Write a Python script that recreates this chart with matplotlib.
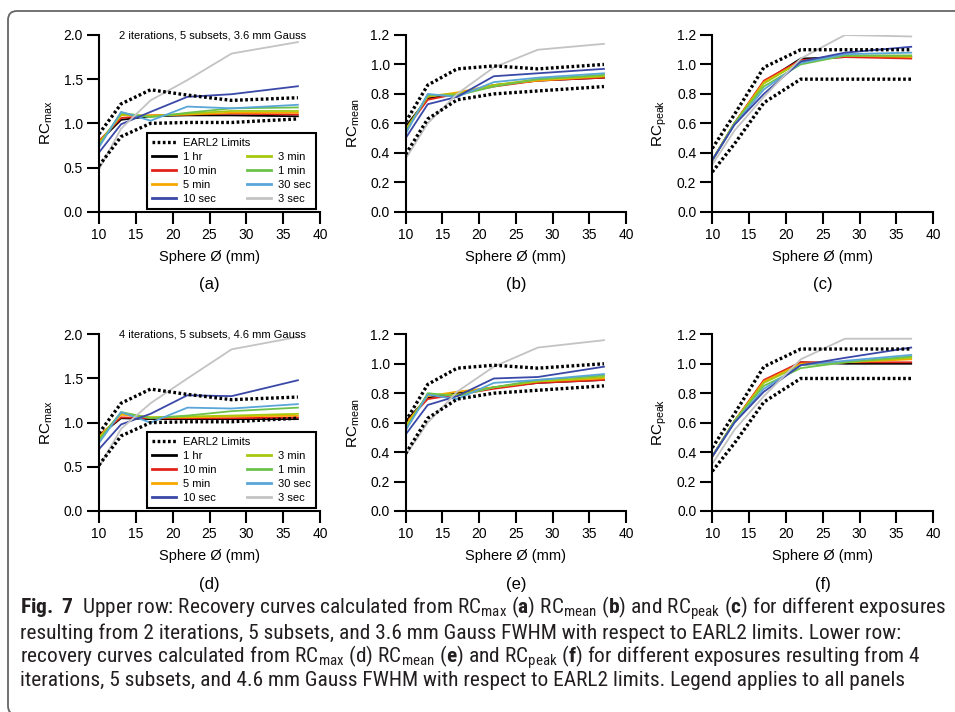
import numpy as np
import matplotlib.pyplot as plt
from matplotlib import font_manager
from matplotlib.lines import Line2D
from matplotlib.patches import FancyBboxPatch

# sphere diameters (mm)
sphere = [10, 13, 17, 22, 28, 37]

labels = ["1 hr", "10 min", "5 min", "3 min", "1 min", "30 sec", "10 sec", "3 sec"]
colors = ["#000000", "#e2231a", "#f7a800", "#a6c90f", "#6cc24a", "#5aa6d8", "#3a48a8", "#c3c3c3"]

# EARL2 limits
max_lo = [0.52, 0.85, 1.00, 1.01, 1.01, 1.05]
max_hi = [0.88, 1.22, 1.38, 1.32, 1.26, 1.29]
mean_lo = [0.39, 0.63, 0.76, 0.80, 0.82, 0.85]
mean_hi = [0.61, 0.86, 0.97, 0.99, 0.97, 1.00]
peak_lo = [0.27, 0.46, 0.74, 0.90, 0.90, 0.90]
peak_hi = [0.43, 0.66, 0.98, 1.10, 1.10, 1.10]

# 2 iterations, 5 subsets, 3.6 mm Gauss (order as labels)
a_max = [
    [0.79, 1.04, 1.08, 1.09, 1.09, 1.08],
    [0.80, 1.06, 1.09, 1.10, 1.11, 1.10],
    [0.78, 1.09, 1.09, 1.10, 1.12, 1.12],
    [0.77, 1.10, 1.08, 1.11, 1.14, 1.14],
    [0.75, 1.12, 1.07, 1.12, 1.17, 1.18],
    [0.73, 1.13, 1.03, 1.19, 1.17, 1.21],
    [0.67, 0.99, 1.13, 1.30, 1.33, 1.42],
    [0.48, 0.94, 1.26, 1.49, 1.79, 1.92],
]
b_mean = [
    [0.58, 0.77, 0.80, 0.86, 0.89, 0.91],
    [0.56, 0.76, 0.80, 0.85, 0.89, 0.91],
    [0.56, 0.78, 0.81, 0.86, 0.89, 0.92],
    [0.55, 0.79, 0.80, 0.86, 0.90, 0.92],
    [0.54, 0.79, 0.79, 0.85, 0.90, 0.93],
    [0.53, 0.80, 0.78, 0.88, 0.91, 0.94],
    [0.50, 0.73, 0.78, 0.92, 0.94, 0.97],
    [0.36, 0.60, 0.80, 0.98, 1.10, 1.14],
]
c_peak = [
    [0.35, 0.60, 0.88, 1.04, 1.05, 1.05],
    [0.35, 0.60, 0.89, 1.03, 1.05, 1.04],
    [0.35, 0.60, 0.88, 1.02, 1.06, 1.05],
    [0.35, 0.60, 0.87, 1.02, 1.06, 1.06],
    [0.35, 0.60, 0.85, 1.00, 1.06, 1.06],
    [0.35, 0.59, 0.83, 1.01, 1.07, 1.08],
    [0.35, 0.59, 0.80, 1.02, 1.08, 1.12],
    [0.32, 0.55, 0.78, 1.04, 1.20, 1.19],
]

# 4 iterations, 5 subsets, 4.6 mm Gauss
d_max = [
    [0.85, 1.05, 1.04, 1.04, 1.04, 1.04],
    [0.86, 1.06, 1.05, 1.05, 1.05, 1.06],
    [0.84, 1.09, 1.06, 1.06, 1.07, 1.08],
    [0.82, 1.11, 1.06, 1.07, 1.08, 1.10],
    [0.80, 1.12, 1.05, 1.08, 1.13, 1.17],
    [0.77, 1.12, 1.00, 1.17, 1.16, 1.21],
    [0.70, 0.98, 1.10, 1.31, 1.30, 1.48],
    [0.50, 0.93, 1.22, 1.50, 1.83, 1.97],
]
e_mean = [
    [0.61, 0.77, 0.80, 0.84, 0.87, 0.89],
    [0.60, 0.76, 0.79, 0.83, 0.87, 0.89],
    [0.59, 0.78, 0.81, 0.84, 0.88, 0.90],
    [0.57, 0.79, 0.79, 0.84, 0.88, 0.91],
    [0.55, 0.80, 0.78, 0.84, 0.89, 0.92],
    [0.55, 0.79, 0.76, 0.87, 0.89, 0.93],
    [0.52, 0.72, 0.78, 0.90, 0.91, 0.98],
    [0.38, 0.60, 0.81, 0.98, 1.11, 1.16],
]
f_peak = [
    [0.37, 0.61, 0.88, 1.01, 1.00, 1.00],
    [0.37, 0.61, 0.89, 1.01, 1.01, 1.01],
    [0.37, 0.61, 0.88, 1.00, 1.01, 1.03],
    [0.37, 0.61, 0.87, 0.99, 1.01, 1.04],
    [0.37, 0.61, 0.85, 0.97, 1.01, 1.05],
    [0.37, 0.60, 0.83, 0.99, 1.02, 1.06],
    [0.37, 0.60, 0.81, 0.99, 1.04, 1.11],
    [0.32, 0.55, 0.78, 1.03, 1.17, 1.17],
]

names = {f.name for f in font_manager.fontManager.ttflist}
cap_font = "Liberation Sans"
for cand in ["Liberation Sans Narrow", "Roboto Condensed", "Open Sans Condensed"]:
    if cand in names:
        cap_font = cand
        break

plt.rcParams["font.family"] = ["Liberation Sans", "DejaVu Sans"]
plt.rcParams["mathtext.fontset"] = "custom"
plt.rcParams["mathtext.rm"] = cap_font
plt.rcParams["mathtext.bf"] = cap_font + ":bold"
plt.rcParams["mathtext.sf"] = "Liberation Sans"

fig = plt.figure(figsize=(9.55, 7.12), dpi=100)

W, H = 955.0, 712.0
cols_px = [(99, 320), (405.7, 626), (712.3, 933.3)]
rows_px = [(35, 211.7), (334.3, 511)]

panels = [
    (a_max, max_lo, max_hi, 2.0, 0.5, "max", "(a)", "2 iterations, 5 subsets, 3.6 mm Gauss"),
    (b_mean, mean_lo, mean_hi, 1.2, 0.2, "mean", "(b)", None),
    (c_peak, peak_lo, peak_hi, 1.2, 0.2, "peak", "(c)", None),
    (d_max, max_lo, max_hi, 2.0, 0.5, "max", "(d)", "4 iterations, 5 subsets, 4.6 mm Gauss"),
    (e_mean, mean_lo, mean_hi, 1.2, 0.2, "mean", "(e)", None),
    (f_peak, peak_lo, peak_hi, 1.2, 0.2, "peak", "(f)", None),
]
label_y = [285, 585]

for i, (data, lo, hi, ymax, ystep, sub, tag, note) in enumerate(panels):
    r, c = divmod(i, 3)
    x0, x1 = cols_px[c]
    yt, yb = rows_px[r]
    ax = fig.add_axes([x0 / W, 1 - yb / H, (x1 - x0) / W, (yb - yt) / H])

    for vals, col, lab in zip(data, colors, labels):
        ax.plot(sphere, vals, color=col, lw=1.3, label=lab)
    ax.plot(sphere, hi, color="black", lw=2.4, ls=(0, (0.8, 0.75)), label="EARL2 Limits")
    ax.plot(sphere, lo, color="black", lw=2.4, ls=(0, (0.8, 0.75)))

    ax.set_xlim(10, 40)
    ax.set_ylim(0, ymax)
    ax.set_xticks(np.arange(10, 41, 5))
    ax.set_yticks(np.arange(0, ymax + 1e-9, ystep))
    ax.yaxis.set_major_formatter(plt.FormatStrFormatter("%.1f"))
    for s in ["top", "right"]:
        ax.spines[s].set_visible(False)
    for s in ["left", "bottom"]:
        ax.spines[s].set_linewidth(1.5)
    ax.tick_params(direction="out", length=8.5, width=1.5, labelsize=10, pad=3)
    ax.set_xlabel("Sphere Ø (mm)", fontsize=10.5, labelpad=6)
    ax.set_ylabel(r"RC$_{\mathsf{%s}}$" % sub, fontsize=11, labelpad=6)

    fig.text(((x0 + x1) / 2) / W, 1 - label_y[r] / H, tag, fontsize=12,
             ha="center", va="center")

    if note:
        ax.text(0.514, 1.0, note, transform=ax.transAxes, fontsize=8,
                ha="center", va="center")
        hnd, lbs = ax.get_legend_handles_labels()
        lk = dict(zip(lbs, hnd))
        blank = Line2D([], [], color="none")
        order = ["EARL2 Limits", "1 hr", "10 min", "5 min", "10 sec"]
        order2 = ["3 min", "1 min", "30 sec", "3 sec"]
        h_list = [lk[k] for k in order] + [blank] + [lk[k] for k in order2]
        l_list = order + [" "] + order2
        leg = ax.legend(h_list, l_list, ncol=2, mode="expand", loc="lower left",
                        bbox_to_anchor=(0.217, 0.015, 0.765, 0.436), fontsize=8,
                        frameon=True, fancybox=False, framealpha=1, edgecolor="black",
                        borderpad=0.45, labelspacing=0.36, handlelength=2.2,
                        handletextpad=0.6, borderaxespad=0, columnspacing=1.0)
        leg.get_frame().set_linewidth(1.5)
        for lh in leg.legend_handles:
            if lh.get_linestyle() == "-":
                lh.set_linewidth(2.0)

# caption
cap_lines = [
    r"$\mathbf{Fig.}$ $\mathbf{7}$  Upper row: Recovery curves calculated from RC$_{\mathrm{max}}$ ($\mathbf{a}$) "
    r"RC$_{\mathrm{mean}}$ ($\mathbf{b}$) and RC$_{\mathrm{peak}}$ ($\mathbf{c}$) for different exposures",
    "resulting from 2 iterations, 5 subsets, and 3.6 mm Gauss FWHM with respect to EARL2 limits. Lower row:",
    r"recovery curves calculated from RC$_{\mathrm{max}}$ (d) RC$_{\mathrm{mean}}$ ($\mathbf{e}$) and "
    r"RC$_{\mathrm{peak}}$ ($\mathbf{f}$) for different exposures resulting from 4",
    "iterations, 5 subsets, and 4.6 mm Gauss FWHM with respect to EARL2 limits. Legend applies to all panels",
]
cap_y = [608, 633, 657, 681]
texts = []
for s, y in zip(cap_lines, cap_y):
    texts.append(fig.text(20 / W, 1 - y / H, s, fontsize=10, family=[cap_font, "DejaVu Sans"],
                          ha="left", va="center", color="#231f20"))
rend = fig.canvas.get_renderer()
w0 = texts[0].get_window_extent(rend).width
scale = 925.0 / w0
for t in texts:
    t.set_fontsize(10 * scale)

# rounded frame (runs off the right and bottom edges)
frame = FancyBboxPatch((8 / W, -0.004), 1.1, 1 - 11 / H + 0.004,
                       boxstyle="round,pad=0,rounding_size=%f" % (9 / W),
                       mutation_aspect=W / H, transform=fig.transFigure, fill=False,
                       edgecolor="#666666", lw=1.3, clip_on=False)
fig.patches.append(frame)

fig.savefig("out.png", dpi=100)
